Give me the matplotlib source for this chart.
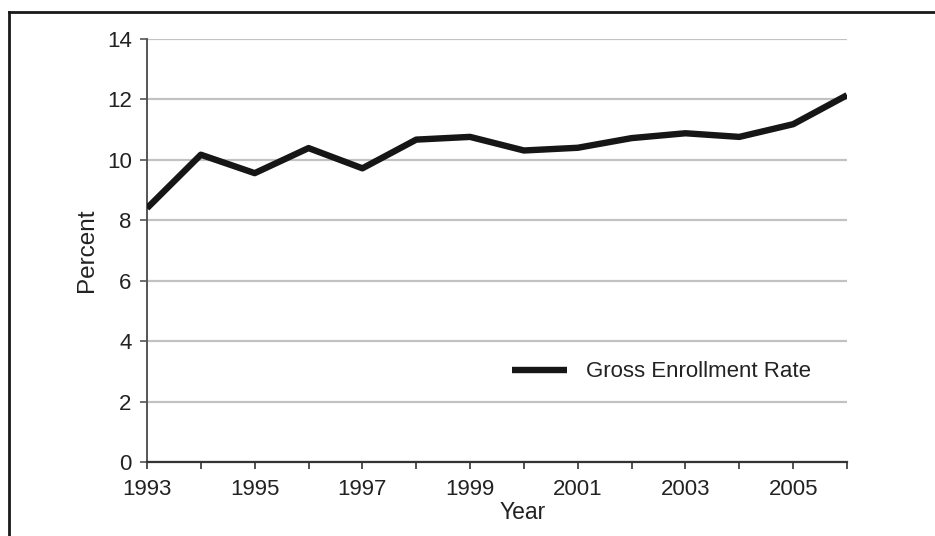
import matplotlib
matplotlib.use("Agg")
import matplotlib.pyplot as plt
from matplotlib.lines import Line2D

plt.rcParams["font.family"] = ["Liberation Sans", "DejaVu Sans"]

# data
years = [1993, 1994, 1995, 1996, 1997, 1998, 1999, 2000, 2001, 2002, 2003, 2004, 2005, 2006]
rate = [8.4, 10.17, 9.56, 10.39, 9.72, 10.67, 10.76, 10.31, 10.4, 10.72, 10.88, 10.76, 11.18, 12.14]
xtick_labels = [1993, 1995, 1997, 1999, 2001, 2003, 2005]
yticks = [0, 2, 4, 6, 8, 10, 12, 14]

W, H = 935, 536
fig = plt.figure(figsize=(W / 100, H / 100), dpi=100)
ax = fig.add_axes([147 / W, 1 - 462 / H, 700 / W, 423 / H])

ax.plot(years, rate, color="#161616", lw=4.6, solid_joinstyle="round",
        solid_capstyle="butt", label="Gross Enrollment Rate", zorder=3)

ax.set_xlim(1993, 2006)
ax.set_ylim(0, 14)
ax.set_yticks(yticks)
ax.set_xticks(years)
ax.set_xticklabels([str(y) if y in xtick_labels else "" for y in years])
ax.yaxis.grid(True, color="#c2c2c2", lw=1.6, zorder=0)
ax.set_axisbelow(True)

for side in ("top", "right"):
    ax.spines[side].set_visible(False)
ax.spines["left"].set_color("#555555")
ax.spines["left"].set_linewidth(1.4)
ax.spines["bottom"].set_color("#333333")
ax.spines["bottom"].set_linewidth(1.6)
ax.tick_params(axis="y", length=5, width=1.2, color="#555555", labelsize=16,
               pad=6, labelcolor="#222222")
ax.tick_params(axis="x", length=5, width=1.2, color="#333333", labelsize=16,
               pad=7, labelcolor="#222222")

ax.set_ylabel("Percent", fontsize=17.5, color="#222222")
ax.yaxis.set_label_coords(-0.07, 0.5)
ax.set_xlabel("Year", fontsize=16.5, color="#222222")
ax.xaxis.set_label_coords(0.536, -0.093)

ax.legend(loc="center left", bbox_to_anchor=(0.521, 0.213), frameon=False,
          fontsize=16, handlelength=2.5, handletextpad=0.85, borderpad=0,
          borderaxespad=0, labelcolor="#222222")

# partial frame (top and left edges) of the scanned figure
fig.add_artist(Line2D([9 / W, 1], [1 - 12 / H, 1 - 12 / H], color="#1a1a1a", lw=2,
                      transform=fig.transFigure))
fig.add_artist(Line2D([9 / W, 9 / W], [0, 1 - 12 / H], color="#1a1a1a", lw=2,
                      transform=fig.transFigure))

fig.savefig("out.png", dpi=100)
